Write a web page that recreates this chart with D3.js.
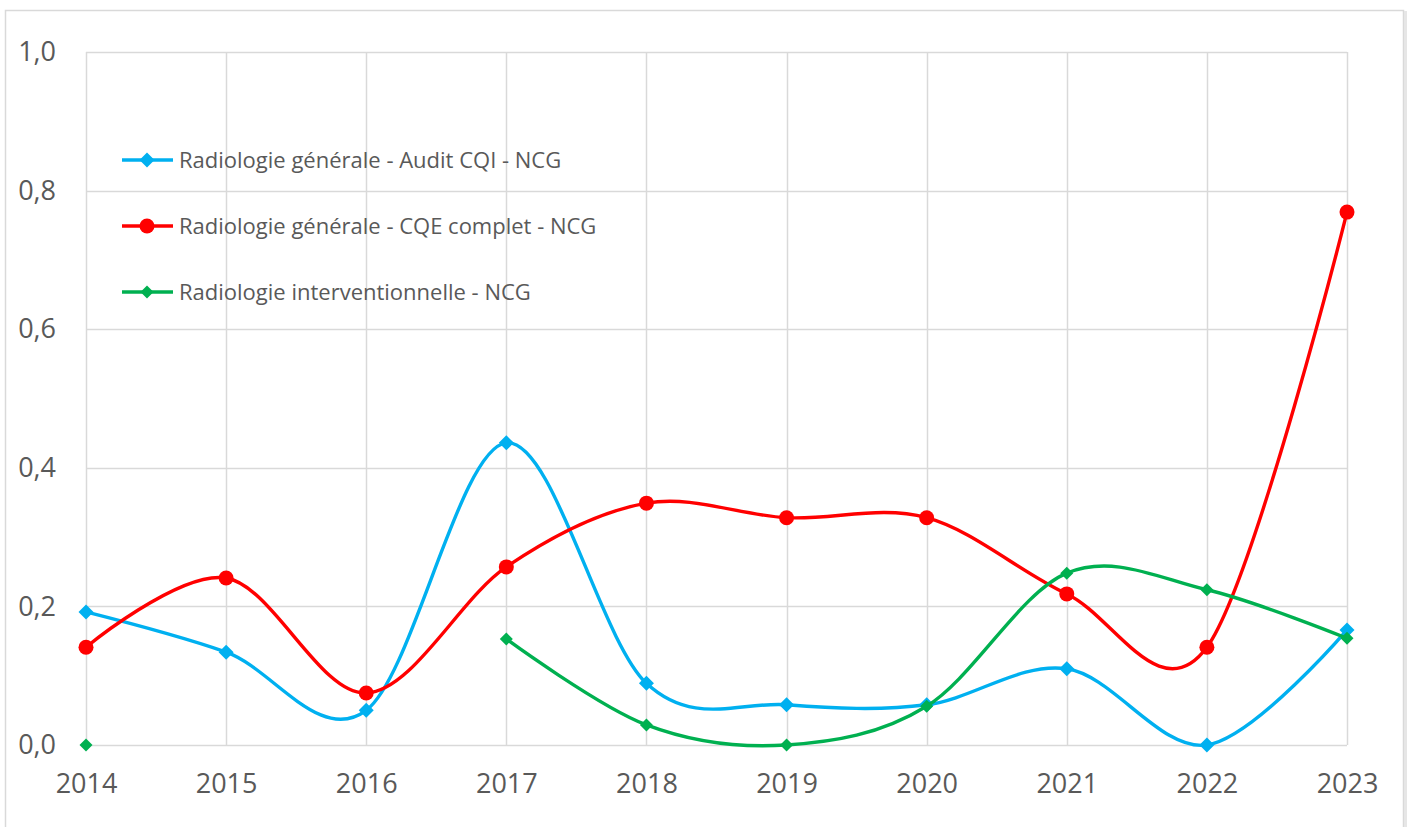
<!DOCTYPE html>
<html>
<head>
<meta charset="utf-8">
<script src="https://cdn.jsdelivr.net/npm/d3@7"></script>
<style>
  body { margin: 0; background: #fff; }
  svg { display: block; }
</style>
</head>
<body>
<div class="chart"></div>
<script>
// Data
var years = [2014, 2015, 2016, 2017, 2018, 2019, 2020, 2021, 2022, 2023];
var auditCQI = [0.192, 0.134, 0.050, 0.436, 0.089, 0.058, 0.058, 0.110, 0.000, 0.166];
var cqeComplet = [0.141, 0.241, 0.075, 0.257, 0.349, 0.328, 0.328, 0.218, 0.141, 0.769];
var interventionnelle = [0.000, null, null, 0.153, 0.029, 0.000, 0.056, 0.248, 0.224, 0.154];
var yTicks = [0, 0.2, 0.4, 0.6, 0.8, 1.0];

var series = [
  { name: "Radiologie générale - Audit CQI - NCG", values: auditCQI, color: "#00B0F0", marker: "diamond", size: 15 },
  { name: "Radiologie générale - CQE complet - NCG", values: cqeComplet, color: "#FF0000", marker: "circle", size: 15 },
  { name: "Radiologie interventionnelle - NCG", values: interventionnelle, color: "#00B050", marker: "diamond", size: 13 }
];

var W = 1411, H = 827;
var margin = { top: 52, right: 64, bottom: 82, left: 86 };
var width = W - margin.left - margin.right,
    height = H - margin.top - margin.bottom;

var svg = d3.select(".chart")
  .append("svg")
    .attr("width", W)
    .attr("height", H);

// outer frame (no bottom edge visible)
svg.append("path")
  .attr("d", "M5.5,827 L5.5,10.5 L1403.5,10.5 L1403.5,827")
  .attr("fill", "none")
  .attr("stroke", "#d9d9d9")
  .attr("stroke-width", 1.5);
svg.append("line")
  .attr("x1", 1405.5).attr("x2", 1405.5).attr("y1", 11).attr("y2", 827)
  .attr("stroke", "#e6e6e6").attr("stroke-width", 3);

var g = svg.append("g")
  .attr("transform", "translate(" + margin.left + "," + margin.top + ")");

var x = d3.scaleLinear().domain([2014, 2023]).range([0, width]);
var y = d3.scaleLinear().domain([0, 1]).range([height, 0]);

// gridlines
g.append("g")
  .selectAll("line")
  .data(yTicks)
  .enter().append("line")
    .attr("x1", 0).attr("x2", width)
    .attr("y1", function(d) { return Math.round(y(d)) + 0.5; })
    .attr("y2", function(d) { return Math.round(y(d)) + 0.5; })
    .attr("stroke", "#d9d9d9").attr("stroke-width", 1.5);

g.append("g")
  .selectAll("line")
  .data(years)
  .enter().append("line")
    .attr("x1", function(d) { return Math.round(x(d)) + 0.5; })
    .attr("x2", function(d) { return Math.round(x(d)) + 0.5; })
    .attr("y1", 0).attr("y2", height)
    .attr("stroke", "#d9d9d9").attr("stroke-width", 1.5);

// axes
var fmt = function(d) { return d3.format(".1f")(d).replace(".", ","); };

var yAxis = g.append("g")
  .call(d3.axisLeft(y).tickValues(yTicks).tickFormat(fmt).tickSize(0).tickPadding(30));
yAxis.select(".domain").remove();
yAxis.selectAll("text")
  .attr("font-family", "Open Sans, sans-serif")
  .attr("font-size", "27px")
  .attr("fill", "#595959");

var xAxis = g.append("g")
  .attr("transform", "translate(0," + height + ")")
  .call(d3.axisBottom(x).tickValues(years).tickFormat(d3.format("d")).tickSize(0).tickPadding(29));
xAxis.select(".domain").remove();
xAxis.selectAll("text")
  .attr("font-family", "Open Sans, sans-serif")
  .attr("font-size", "27px")
  .attr("fill", "#595959");

// lines
var line = d3.line()
  .defined(function(d) { return d != null; })
  .x(function(d, i) { return x(years[i]); })
  .y(function(d) { return y(d); })
  .curve(d3.curveCardinal.tension(0));

function drawMarker(sel, s, cx, cy) {
  if (s.marker === "circle") {
    sel.append("circle")
      .attr("cx", cx).attr("cy", cy).attr("r", s.size / 2)
      .attr("fill", s.color);
  } else {
    var r = s.size / 2;
    sel.append("path")
      .attr("d", "M" + cx + "," + (cy - r) + "L" + (cx + r) + "," + cy + "L" + cx + "," + (cy + r) + "L" + (cx - r) + "," + cy + "Z")
      .attr("fill", s.color);
  }
}

series.forEach(function(s) {
  g.append("path")
    .datum(s.values)
    .attr("d", line)
    .attr("fill", "none")
    .attr("stroke", s.color)
    .attr("stroke-width", 3.4);

  var mg = g.append("g");
  s.values.forEach(function(v, i) {
    if (v == null) return;
    drawMarker(mg, s, x(years[i]), y(v));
  });
});

// legend
var legend = svg.append("g");
series.forEach(function(s, i) {
  var ly = 160 + i * 66;
  legend.append("line")
    .attr("x1", 122).attr("x2", 173).attr("y1", ly).attr("y2", ly)
    .attr("stroke", s.color).attr("stroke-width", 3.4);
  drawMarker(legend, s, 147, ly);
  legend.append("text")
    .attr("x", 179).attr("y", ly)
    .attr("dy", "0.35em")
    .attr("font-family", "Open Sans, sans-serif")
    .attr("font-size", "22px")
    .attr("fill", "#595959")
    .text(s.name);
});
</script>
</body>
</html>
